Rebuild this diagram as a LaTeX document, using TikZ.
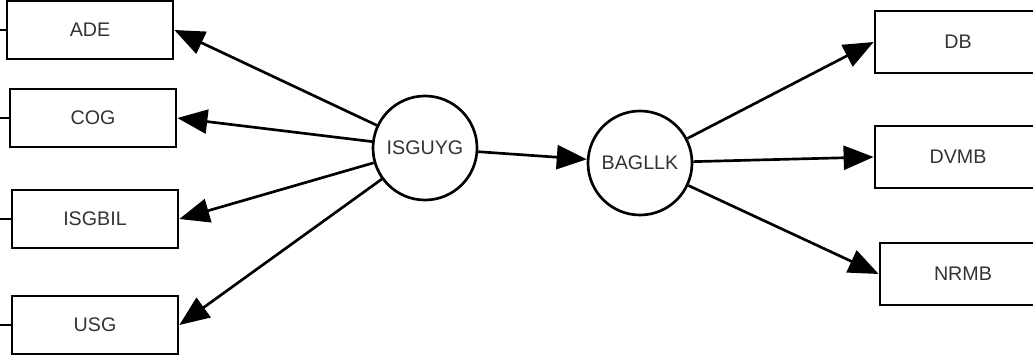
\documentclass[tikz,border=0pt]{standalone}
\usepackage{fontspec}
\setmainfont{Liberation Sans}
\usetikzlibrary{arrows.meta}
\begin{document}
\begin{tikzpicture}[x=0.025cm,y=-0.025cm,
    box/.style={draw,line width=1.9pt,minimum width=4.15cm,minimum height=1.45cm,
      inner sep=0pt,font=\fontsize{14}{16}\selectfont,text=black!80},
    hub/.style={draw,circle,line width=1.9pt,minimum size=2.6cm,
      inner sep=0pt,font=\fontsize{14}{16}\selectfont,text=black!80},
    link/.style={line width=1.9pt,-{Triangle[length=0.75cm,width=0.6cm]}}]
  % Frame
  \useasboundingbox (0,0) rectangle (1033,360);
  \clip (0,0) rectangle (1033,360);

  % Left boxes
  \node[box] (ade) at (90,30) {ADE};
  \node[box] (cog) at (93,118) {COG};
  \node[box] (isgbil) at (95,219) {ISGBIL};
  \node[box] (usg) at (95,325) {USG};

  % Hubs
  \node[hub] (isguyg) at (425,148) {ISGUYG};
  \node[hub] (bagllk) at (640,163) {BAGLLK};

  % Right boxes
  \node[box,minimum height=1.55cm] (db) at (958,42) {DB};
  \node[box,minimum height=1.55cm] (dvmb) at (958,157) {DVMB};
  \node[box,minimum height=1.55cm] (nrmb) at (963,274) {NRMB};

  % Arrows
  \foreach \t in {ade,cog,isgbil,usg}
    {
      \draw[link] (isguyg) -- (\t.east);
      \draw[line width=1.9pt] (\t.west) -- ++(-12,0);
    }
  \draw[link] (isguyg) -- (bagllk);
  \foreach \t in {db,dvmb,nrmb}
    \draw[link] (bagllk) -- (\t.west);
\end{tikzpicture}
\end{document}
